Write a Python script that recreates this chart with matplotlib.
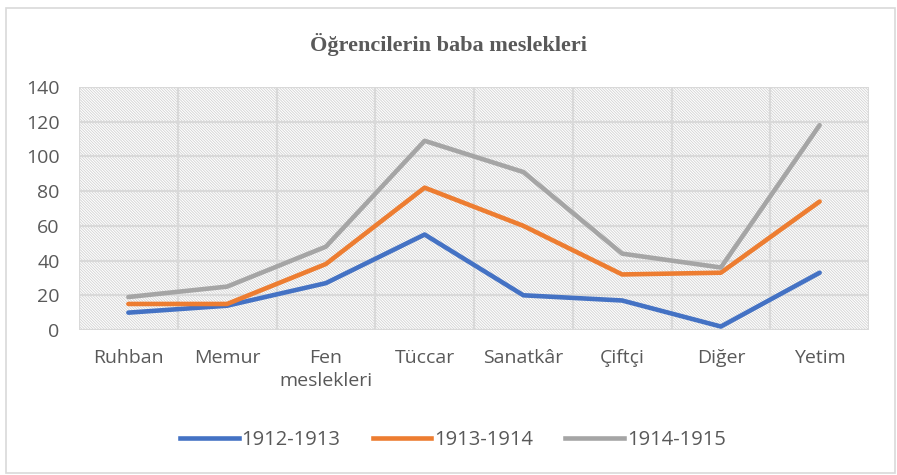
import numpy as np
import matplotlib.pyplot as plt
from matplotlib.patches import Rectangle
from matplotlib.lines import Line2D

categories = ['Ruhban', 'Memur', 'Fen\nmeslekleri', 'Tüccar', 'Sanatkâr', 'Çiftçi', 'Diğer', 'Yetim']
s1912 = [10, 14, 27, 55, 20, 17, 2, 33]
s1913 = [15, 15, 38, 82, 60, 32, 33, 74]
s1914 = [19, 25, 48, 109, 91, 44, 36, 118]
series_names = ['1912-1913', '1913-1914', '1914-1915']
colors = ['#4472C4', '#ED7D31', '#A5A5A5']

plt.rcParams['hatch.linewidth'] = 0.6
plt.rcParams['hatch.color'] = '#D2D2D2'

fig = plt.figure(figsize=(8.97, 4.75), dpi=100)
fig.patches.append(Rectangle((6 / 897, 2 / 475), 889 / 897, 465 / 475, transform=fig.transFigure,
                             fill=False, edgecolor='#D9D9D9', linewidth=1.2))

ax = fig.add_axes([79 / 897, 1 - 330 / 475, 790 / 897, 243 / 475])
ax.patch.set_facecolor('white')
ax.patch.set_hatch('\\' * 12)
ax.patch.set_edgecolor('#D2D2D2')

x = np.arange(len(categories))
for vals, c in zip([s1912, s1913, s1914], colors):
    ax.plot(x, vals, color=c, lw=3.3, solid_capstyle='round', solid_joinstyle='round', zorder=3)

ax.set_xlim(-0.5, len(categories) - 0.5)
ax.set_ylim(0, 140)
ax.set_yticks(range(0, 141, 20))
ax.set_xticks(x)
ax.set_xticklabels(categories, fontsize=14, color='#595959', family='Open Sans', linespacing=1.3, va='top')
for lab in ax.get_yticklabels():
    lab.set_fontsize(14)
    lab.set_color('#595959')
    lab.set_family('Open Sans')
ax.set_xticks(np.arange(-0.5, len(categories), 0.5), minor=True)
ax.tick_params(axis='both', which='both', length=0)
ax.tick_params(axis='x', pad=14)
ax.tick_params(axis='y', pad=14)
ax.grid(True, which='minor', axis='x', color='#D9D9D9', lw=1.6, zorder=1)
ax.grid(True, which='major', axis='y', color='#D9D9D9', lw=1.6, zorder=1)
ax.set_axisbelow(True)
for sp in ax.spines.values():
    sp.set_visible(False)

fig.text(0.5, 1 - 44 / 475, 'Öğrencilerin baba meslekleri', ha='center', va='center',
         fontsize=16, fontweight='bold', color='#595959', family='Liberation Serif')

handles = [Line2D([], [], color=c, lw=3.3) for c in colors]
fig.legend(handles, series_names, loc='center', bbox_to_anchor=(0.505, 1 - 440 / 475), ncol=3,
           frameon=False, handlelength=2.9, handletextpad=0.15, columnspacing=1.6,
           prop={'family': 'Open Sans', 'size': 14.5}, labelcolor='#595959')

fig.savefig('out.png', dpi=100)
